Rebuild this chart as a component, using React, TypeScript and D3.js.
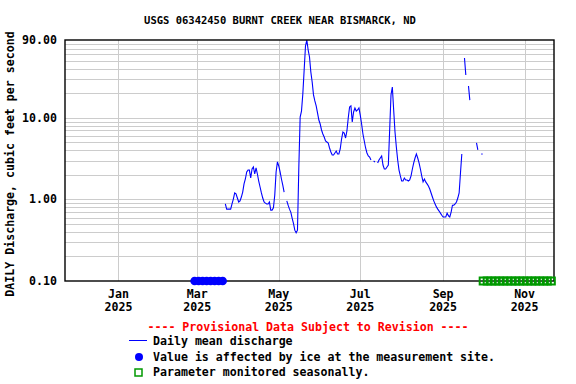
import React, { useEffect, useRef } from 'react';
import * as d3 from 'd3';

// Daily mean discharge (cfs), one value per day starting at dischargeStart; null = no data
const dischargeStart = '2025-03-22';
const dischargeValues: (number | null)[] = [
  0.88, 0.76, 0.76, 0.76, 0.76, 0.88, 1.01, 1.20, 1.17, 1.04,
  0.93, 0.96, 1.07, 1.23, 1.55, 1.78, 2.17, 2.29, 2.29, 1.83,
  2.36, 2.50, 2.05, 2.43, 2.05, 1.68, 1.42, 1.20, 1.04, 0.93,
  0.90, 0.88, 0.88, 0.93, 0.74, 0.74, 0.79, 1.13, 2.17, 2.88,
  2.57, 2.17, 1.78, 1.50, 1.23, null, 0.96, 0.85, 0.76, 0.70,
  0.59, 0.51, 0.42, 0.39, 0.42, 2.43, 10.2, 12.1, 19.6, 38.6,
  75.9, 90.0, 67.9, 55.7, 36.5, 27.5, 19.1, 16.1, 14.0, 11.5,
  9.41, 8.40, 7.10, 6.34, 5.82, 5.20, 5.06, 4.92, 4.27, 3.81,
  3.50, 3.50, 3.71, 3.92, 3.61, 3.61, 4.15, 5.50, 6.71, 6.52,
  5.66, 6.90, 9.95, 13.6, 14.0, 8.89, 11.8, 13.2, 12.1, 12.5,
  13.2, 10.8, 8.40, 6.34, 5.20, 4.27, 3.71, 3.41, 3.31, 3.04,
  null, 2.96, 2.88, null, 2.80, 3.04, 3.22, 3.41, 2.64, 2.36,
  2.36, 2.50, 2.64, 7.10, 19.1, 23.9, 12.5, 6.71, 4.39, 3.04,
  2.29, 1.94, 1.68, 1.68, 1.83, 1.73, 1.73, 1.68, 1.73, 1.94,
  2.36, 2.80, 3.22, 3.61, 3.22, 2.80, 2.36, 1.94, 1.64, 1.78,
  1.64, 1.55, 1.46, 1.34, 1.20, 1.07, 0.96, 0.88, 0.81, 0.76,
  0.72, 0.68, 0.64, 0.61, 0.61, 0.61, 0.68, 0.63, 0.61, 0.70,
  0.85, 0.85, 0.88, 0.93, 1.04, 1.20, 2.11, 3.61, null, 54.1,
  33.5, null, 24.6, 16.5, null, null, null, null, 4.92, 4.04,
  null, null, 3.61,
];

// Ice-affected marker dates
const iceDates = [
  '2025-02-27', '2025-03-02', '2025-03-05', '2025-03-08',
  '2025-03-11', '2025-03-14', '2025-03-17', '2025-03-20',
];

// Seasonal monitoring marker dates
const seasonalDates = [
  '2025-10-01', '2025-10-04', '2025-10-07', '2025-10-10', '2025-10-13', '2025-10-16',
  '2025-10-19', '2025-10-22', '2025-10-25', '2025-10-28', '2025-10-31', '2025-11-03',
  '2025-11-06', '2025-11-09', '2025-11-12', '2025-11-15', '2025-11-18', '2025-11-21',
];

const xDomain = ['2024-11-22', '2025-11-23'];
const xTickDates = ['2025-01-01', '2025-03-01', '2025-05-01', '2025-07-01', '2025-09-01', '2025-11-01'];
const yDomain = [0.1, 90];
const yTickValues = [0.1, 1, 10, 90];
const yTickLabels = ['0.10', '1.00', '10.00', '90.00'];
const yMinorGrid = [0.2, 0.3, 0.4, 0.5, 0.6, 0.7, 0.8, 0.9, 1, 2, 3, 4, 5, 6, 7, 8, 9, 10, 20, 30, 40, 50, 60, 70, 80];

const title = 'USGS 06342450 BURNT CREEK NEAR BISMARCK, ND';
const yLabel = 'DAILY Discharge, cubic feet per second';
const provisional = '---- Provisional Data Subject to Revision ----';
const legendItems = [
  'Daily mean discharge',
  'Value is affected by ice at the measurement site.',
  'Parameter monitored seasonally.',
];

const FONT = '"DejaVu Sans Mono", monospace';
const BLUE = '#0000ff';
const GREEN = '#009900';
const GRID = '#cccccc';

const App = () => {
  const svgRef = useRef<SVGSVGElement | null>(null);

  useEffect(() => {
    const left = 65, right = 554, top = 40, bottom = 281;
    const parse = d3.timeParse('%Y-%m-%d');
    const svg = d3.select(svgRef.current);
    svg.selectAll('*').remove();

    const x = d3.scaleTime()
      .domain(xDomain.map(d => parse(d) as Date))
      .range([left, right]);
    const y = d3.scaleLog()
      .domain(yDomain)
      .range([bottom, top]);

    svg.append('rect').attr('width', 576).attr('height', 384).attr('fill', '#fff');

    // title
    svg.append('text')
      .attr('x', 280).attr('y', 24)
      .attr('text-anchor', 'middle')
      .style('font-family', FONT).style('font-size', '10.5px').style('font-weight', 'bold')
      .text(title);

    // grid
    svg.append('g').selectAll('line')
      .data(yMinorGrid)
      .enter().append('line')
      .attr('x1', left).attr('x2', right)
      .attr('y1', d => Math.round(y(d)) + 0.5).attr('y2', d => Math.round(y(d)) + 0.5)
      .attr('stroke', GRID).attr('stroke-width', 1);

    const xTicks = xTickDates.map(d => parse(d) as Date);
    svg.append('g').selectAll('line')
      .data(xTicks)
      .enter().append('line')
      .attr('x1', d => Math.round(x(d)) + 0.5).attr('x2', d => Math.round(x(d)) + 0.5)
      .attr('y1', top).attr('y2', bottom)
      .attr('stroke', GRID).attr('stroke-width', 1);

    // discharge line
    const start = parse(dischargeStart) as Date;
    const points = dischargeValues.map((v, i) => ({ date: d3.timeDay.offset(start, i), value: v }));

    svg.append('clipPath').attr('id', 'plot-clip')
      .append('rect').attr('x', left).attr('y', top).attr('width', right - left).attr('height', bottom - top);

    const line = d3.line<{ date: Date; value: number | null }>()
      .defined(d => d.value != null)
      .x(d => x(d.date))
      .y(d => y(d.value as number));

    svg.append('path')
      .datum(points)
      .attr('clip-path', 'url(#plot-clip)')
      .attr('fill', 'none')
      .attr('stroke', BLUE)
      .attr('stroke-width', 1.1)
      .attr('d', line);

    // isolated single days (no neighbours) drawn as a small dot
    const lone = points.filter((p, i) => p.value != null
      && (i === 0 || points[i - 1].value == null)
      && (i === points.length - 1 || points[i + 1].value == null));
    svg.append('g').selectAll('rect')
      .data(lone)
      .enter().append('rect')
      .attr('x', d => x(d.date) - 0.5).attr('y', d => y(d.value as number) - 0.5)
      .attr('width', 1.2).attr('height', 1.2)
      .attr('fill', BLUE);

    // frame
    svg.append('rect')
      .attr('x', left).attr('y', top).attr('width', right - left).attr('height', bottom - top)
      .attr('fill', 'none').attr('stroke', '#000').attr('stroke-width', 1.4);

    // ice markers
    svg.append('g').selectAll('circle')
      .data(iceDates.map(d => parse(d) as Date))
      .enter().append('circle')
      .attr('cx', d => x(d)).attr('cy', bottom)
      .attr('r', 4.3)
      .attr('fill', BLUE);

    // seasonal markers
    svg.append('g').selectAll('rect')
      .data(seasonalDates.map(d => parse(d) as Date))
      .enter().append('rect')
      .attr('x', d => x(d) - 3.5).attr('y', bottom - 3.5)
      .attr('width', 7).attr('height', 7)
      .attr('fill', 'none').attr('stroke', GREEN).attr('stroke-width', 2);

    // y tick labels
    svg.append('g').selectAll('text')
      .data(yTickValues)
      .enter().append('text')
      .attr('x', 57).attr('y', d => y(d))
      .attr('dy', '0.35em')
      .attr('text-anchor', 'end')
      .style('font-family', FONT).style('font-size', '11.6px').style('font-weight', 'bold')
      .text((d, i) => yTickLabels[i]);

    // x tick labels
    const fmtMonth = d3.timeFormat('%b');
    const fmtYear = d3.timeFormat('%Y');
    const xl = svg.append('g').selectAll('text')
      .data(xTicks)
      .enter().append('text')
      .attr('text-anchor', 'middle')
      .style('font-family', FONT).style('font-size', '11.6px').style('font-weight', 'bold');
    xl.append('tspan').attr('x', d => x(d)).attr('y', 298).text(d => fmtMonth(d));
    xl.append('tspan').attr('x', d => x(d)).attr('y', 311).text(d => fmtYear(d));

    // y axis label
    svg.append('text')
      .attr('transform', 'translate(14,164) rotate(-90)')
      .attr('text-anchor', 'middle')
      .style('font-family', FONT).style('font-size', '11.6px').style('font-weight', 'bold')
      .text(yLabel);

    // provisional note
    svg.append('text')
      .attr('x', 308).attr('y', 331)
      .attr('text-anchor', 'middle')
      .attr('fill', '#ff0000')
      .style('font-family', FONT).style('font-size', '11.6px').style('font-weight', 'bold')
      .text(provisional);

    // legend
    const lg = svg.append('g');
    lg.append('line').attr('x1', 129).attr('x2', 147).attr('y1', 340.5).attr('y2', 340.5)
      .attr('stroke', BLUE).attr('stroke-width', 1);
    lg.append('circle').attr('cx', 139).attr('cy', 357).attr('r', 4).attr('fill', BLUE);
    lg.append('rect').attr('x', 135).attr('y', 369).attr('width', 7).attr('height', 7)
      .attr('fill', 'none').attr('stroke', GREEN).attr('stroke-width', 1.5);
    lg.selectAll('text')
      .data(legendItems)
      .enter().append('text')
      .attr('x', 153).attr('y', (d, i) => 345 + i * 15.7)
      .style('font-family', FONT).style('font-size', '11.6px').style('font-weight', 'bold')
      .text(d => d);
  }, []);

  return (
    <svg ref={svgRef} width={576} height={384}
      style={{ position: 'absolute', left: 0, top: 0, display: 'block' }} />
  );
};

export default App;
